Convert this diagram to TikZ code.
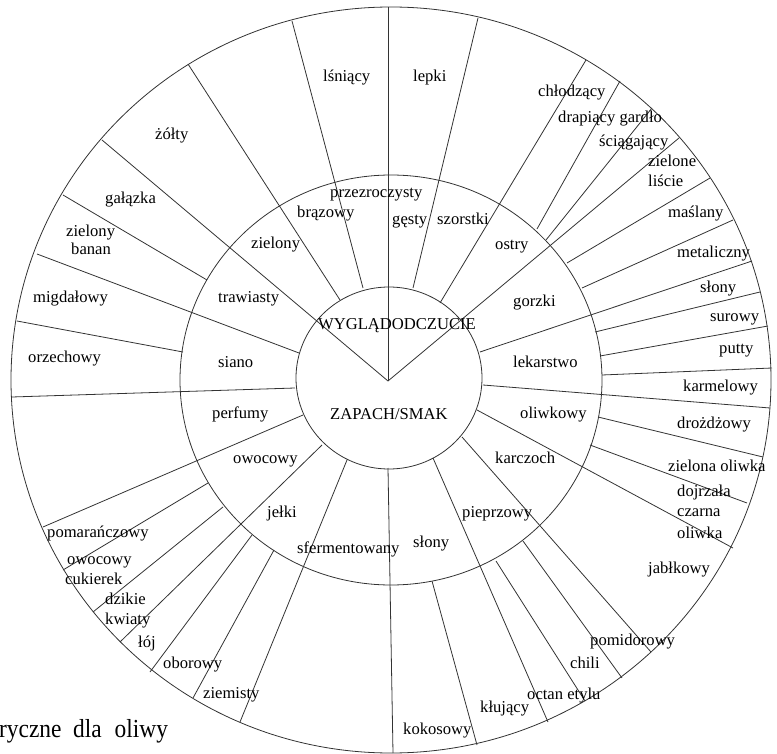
\documentclass[tikz,border=0pt]{standalone}
\usepackage{fontspec}
\setmainfont{Liberation Serif}
\begin{document}
\begin{tikzpicture}[x=1pt,y=-1pt,
    ring/.style={line width=0.8pt,draw=black!80},
    lbl/.style={font=\fontsize{16.6}{18}\selectfont,inner sep=0pt,anchor=base west}]
    \useasboundingbox (0,0) rectangle (777,754);
    % rings
    \draw[ring] (391,380) ellipse [x radius=380pt,y radius=373pt];
    \draw[ring] (391,380) ellipse [x radius=211pt,y radius=205pt];
    \draw[ring] (389,378) ellipse [x radius=93pt,y radius=91pt];
    % spokes from the centre
    \draw[ring] (388,381) -- (102,140);
    \draw[ring] (388,381) -- (388,7);
    \draw[ring] (388,381) -- (679,138);
    % upper half
    \draw[ring] (340,300) -- (188,64);
    \draw[ring] (363,288) -- (292,21);
    \draw[ring] (413,288) -- (478,18);
    \draw[ring] (440,303) -- (586,60);
    \draw[ring] (537,229) -- (620,81);
    \draw[ring] (546,240) -- (652,108);
    \draw[ring] (567,263) -- (710,178);
    \draw[ring] (582,288) -- (733,220);
    \draw[ring] (480,352) -- (752,261);
    \draw[ring] (595,332) -- (760,292);
    \draw[ring] (600,356) -- (768,326);
    \draw[ring] (602,375) -- (772,368);
    % right and bottom
    \draw[ring] (483,385) -- (770,408);
    \draw[ring] (598,417) -- (763,457);
    \draw[ring] (590,445) -- (747,503);
    \draw[ring] (477,410) -- (733,548);
    \draw[ring] (462,437) -- (651,652);
    \draw[ring] (523,541) -- (622,678);
    \draw[ring] (496,561) -- (585,701);
    \draw[ring] (433,458) -- (548,722);
    \draw[ring] (432,581) -- (477,745);
    \draw[ring] (388,468) -- (393,753);
    % left and bottom
    \draw[ring] (347,460) -- (240,722);
    \draw[ring] (274,550) -- (193,698);
    \draw[ring] (252,535) -- (150,672);
    \draw[ring] (322,445) -- (120,642);
    \draw[ring] (223,507) -- (93,612);
    \draw[ring] (208,483) -- (63,570);
    \draw[ring] (303,415) -- (43,527);
    \draw[ring] (295,388) -- (12,397);
    \draw[ring] (183,352) -- (17,321);
    \draw[ring] (299,353) -- (37,254);
    \draw[ring] (207,280) -- (63,195);
    % centre
    \node[lbl] (wyglad) at (318,330) {WYGLĄDODCZUCIE};
    \node[lbl] (zapach) at (330,419) {ZAPACH/SMAK};
    % middle ring
    \node[lbl] (przezr) at (330,198) {przezroczysty};
    \node[lbl] (brazowy) at (297,218) {brązowy};
    \node[lbl] (zielonyM) at (251,249) {zielony};
    \node[lbl] (trawiasty) at (218,302) {trawiasty};
    \node[lbl] (siano) at (218,367) {siano};
    \node[lbl] (perfumy) at (212,418) {perfumy};
    \node[lbl] (owocowyM) at (233,463) {owocowy};
    \node[lbl] (jelki) at (267,517) {jełki};
    \node[lbl] (sferm) at (297,553) {sfermentowany};
    \node[lbl] (slonyM) at (413,547) {słony};
    \node[lbl] (pieprz) at (462,517) {pieprzowy};
    \node[lbl] (karczoch) at (495,463) {karczoch};
    \node[lbl] (oliwkowy) at (520,418) {oliwkowy};
    \node[lbl] (lekar) at (513,367) {lekarstwo};
    \node[lbl] (gorzki) at (513,307) {gorzki};
    \node[lbl] (ostry) at (495,250) {ostry};
    \node[lbl] (szorstki) at (437,225) {szorstki};
    \node[lbl] (gesty) at (392,225) {gęsty};
    % outer ring
    \node[lbl] (lsniacy) at (323,82) {lśniący};
    \node[lbl] (lepki) at (413,82) {lepki};
    \node[lbl] (chlodz) at (538,97) {chłodzący};
    \node[lbl] (drapiacy) at (558,123) {drapiący gardło};
    \node[lbl] (sciag) at (599,147) {ściągający};
    \node[lbl] (zieloneA) at (648,167) {zielone};
    \node[lbl] (zieloneB) at (648,187) {liście};
    \node[lbl] (maslany) at (668,218) {maślany};
    \node[lbl] (metal) at (677,258) {metaliczny};
    \node[lbl] (slonyO) at (700,293) {słony};
    \node[lbl] (surowy) at (710,322) {surowy};
    \node[lbl] (putty) at (719,353) {putty};
    \node[lbl] (karmel) at (683,391) {karmelowy};
    \node[lbl] (drozdz) at (677,428) {drożdżowy};
    \node[lbl] (zoliwka) at (668,471) {zielona oliwka};
    \node[lbl] (dojrzA) at (677,496) {dojrzała};
    \node[lbl] (dojrzB) at (677,516) {czarna};
    \node[lbl] (dojrzC) at (677,538) {oliwka};
    \node[lbl] (jablk) at (648,573) {jabłkowy};
    \node[lbl] (pomid) at (590,645) {pomidorowy};
    \node[lbl] (chili) at (570,668) {chili};
    \node[lbl] (octan) at (527,699) {octan etylu};
    \node[lbl] (klujacy) at (480,712) {kłujący};
    \node[lbl] (kokos) at (403,734) {kokosowy};
    \node[lbl] (ziemisty) at (203,698) {ziemisty};
    \node[lbl] (oborowy) at (163,668) {oborowy};
    \node[lbl] (loj) at (138,647) {łój};
    \node[lbl] (dzikieA) at (105,604) {dzikie};
    \node[lbl] (dzikieB) at (105,624) {kwiaty};
    \node[lbl] (cukierA) at (67,564) {owocowy};
    \node[lbl] (cukierB) at (65,584) {cukierek};
    \node[lbl] (pomar) at (47,537) {pomarańczowy};
    \node[lbl] (orzech) at (28,362) {orzechowy};
    \node[lbl] (migdal) at (33,302) {migdałowy};
    \node[lbl] (bananA) at (66,237) {zielony};
    \node[lbl] (bananB) at (71,255) {banan};
    \node[lbl] (galazka) at (105,204) {gałązka};
    \node[lbl] (zolty) at (155,140) {żółty};
    % caption cut by the page edge
    \node[inner sep=0pt,anchor=base west,xscale=0.9,font=\fontsize{26}{28}\selectfont] (caption) at (-1,737) {ryczne\hspace{0.5em}dla\hspace{0.55em}oliwy};
\end{tikzpicture}
\end{document}
